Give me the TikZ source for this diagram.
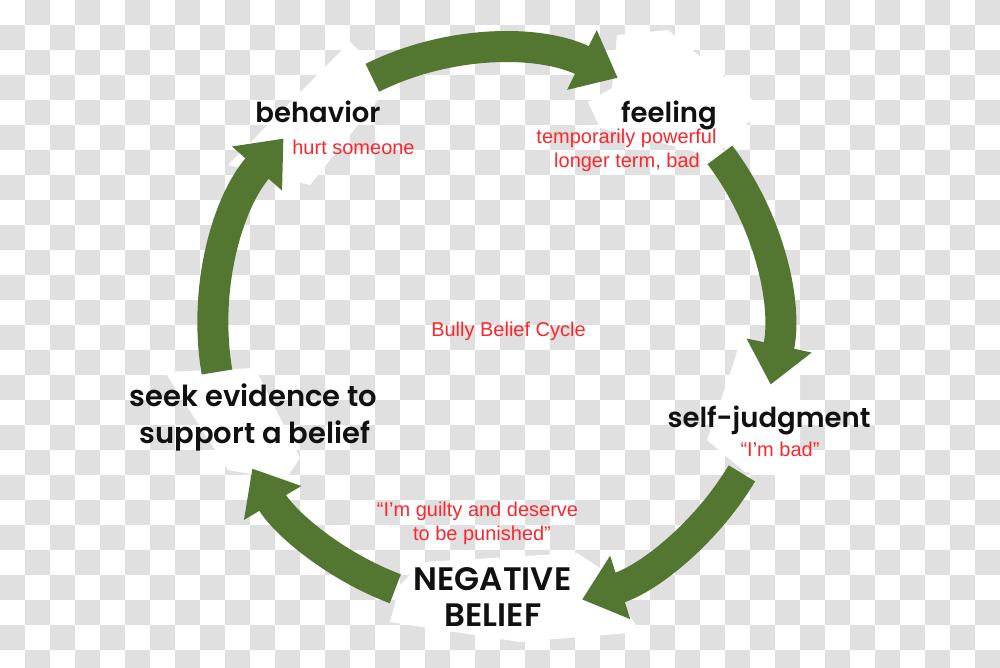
\documentclass[tikz,border=0pt]{standalone}
\usepackage{fontspec}
\setmainfont{Liberation Sans}
\newfontfamily\labfont{Poppins SemiBold}
\usetikzlibrary{arrows.meta,calc}
\definecolor{cyc}{RGB}{83,119,49}
\definecolor{lbl}{RGB}{250,40,45}
\definecolor{chk}{RGB}{224,224,224}
\definecolor{ink}{RGB}{17,17,17}
\begin{document}
\begin{tikzpicture}[x=1pt,y=-1pt,
  cycarrow/.style={draw=cyc, line width=31pt, -{Triangle[length=40pt,width=64pt]}},
  mainlbl/.style={font=\labfont\fontsize{27.5}{28}\selectfont, text=ink, inner sep=0pt, anchor=base},
  biglbl/.style={mainlbl, font=\labfont\fontsize{32.5}{33}\selectfont},
  sublbl/.style={font=\fontsize{20}{20}\selectfont, text=lbl, inner sep=0pt, anchor=base},
  patch/.style={fill=white, draw=none}]
\useasboundingbox (0,0) rectangle (1000,667);
\clip (0,0) rectangle (1000,667);
\fill[white] (0,0) rectangle (1000,667);
\foreach \i in {0,...,39}{\foreach \j in {0,...,26}{
  \pgfmathtruncatemacro{\chkpar}{mod(\i+\j,2)}
  \ifnum\chkpar=1 \fill[chk] (\i*25,\j*25) rectangle ++(25,25);\fi}}
% white patches
\fill[patch] (350,42) -- (392,82) -- (310,185) -- (228,165) -- cycle;
\fill[patch] (617,35) -- (668,30) -- (762,108) -- (712,160) -- (690,150) -- (600,128) -- (588,102) -- (612,88) -- cycle;
\fill[patch] (738,348) -- (800,345) -- (800,478) -- (745,472) -- (707,440) -- (733,365) -- cycle;
\fill[patch] (423,562) -- (577,553) -- (600,568) -- (640,632) -- (520,642) -- (390,622) -- (400,585) -- cycle;
\fill[patch] (165,372) -- (255,368) -- (300,458) -- (285,480) -- (228,470) -- cycle;
% labels
\node[mainlbl] (beh) at (318,122) {behavior};
\node[sublbl] (behs) at (353.5,154.5) {hurt someone};
\node[mainlbl] (feel) at (669,122) {feeling};
\node[sublbl] (feels1) at (626.5,143.3) {temporarily powerful};
\node[sublbl] (feels2) at (627,167.3) {longer term, bad};
\node[mainlbl] (judg) at (769,427) {self-judgment};
\node[sublbl] (judgs) at (780,456) {“I’m bad”};
\node[sublbl] (negs1) at (477.5,516.7) {“I’m guilty and deserve};
\node[sublbl] (negs2) at (482,540.7) {to be punished”};
\node[biglbl] (neg1) at (492.5,590) {NEGATIVE};
\node[biglbl] (neg2) at (493,626.7) {BELIEF};
\node[mainlbl, font=\labfont\fontsize{29}{29}\selectfont] (seek1) at (253.5,406.7) {seek evidence to};
\node[mainlbl, font=\labfont\fontsize{29}{29}\selectfont] (seek2) at (255,443.3) {support a belief};
\node[sublbl] (title) at (508.5,336.7) {Bully Belief Cycle};
% cycle arrows
\coordinate (C) at (495,325);
\coordinate (t1) at ($(C)+(243.6:276)$);
\coordinate (t2) at ($(C)+(322.9:282)$);
\coordinate (t3) at ($(C)+(31:288)$);
\coordinate (t4) at ($(C)+(110.7:282)$);
\coordinate (t5) at ($(C)+(170.4:282)$);
\draw[cycarrow] (t1) arc[start angle=243.6, end angle=296.4, radius=276];
\draw[cycarrow] (t2) arc[start angle=322.9, end angle=372.2, radius=282];
\draw[cycarrow] (t3) arc[start angle=31, end angle=72.4, radius=288];
\draw[cycarrow] (t4) arc[start angle=110.7, end angle=149.4, radius=282];
\draw[cycarrow] (t5) arc[start angle=170.4, end angle=221.4, radius=282];
\end{tikzpicture}
\end{document}
